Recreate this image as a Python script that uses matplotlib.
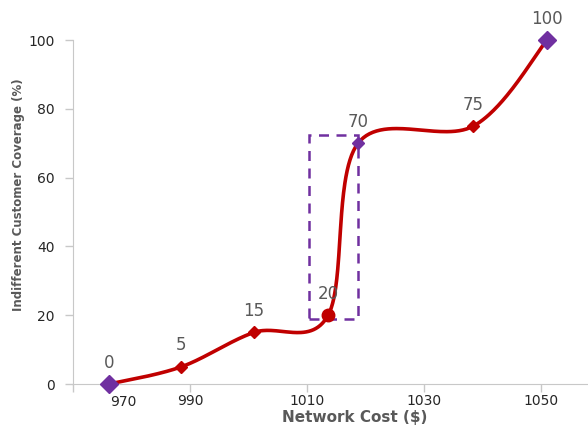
import numpy as np
import matplotlib.pyplot as plt
import matplotlib.transforms as mtransforms

# Network cost vs. share of indifferent customers
cost = [976.2, 988.5, 1000.9, 1013.6, 1018.7, 1038.4, 1051.0]
coverage = [0, 5, 15, 20, 70, 75, 100]
point_labels = ["0", "5", "15", "20", "70", "75", "100"]
x_ticks = [970, 990, 1010, 1030, 1050]
y_ticks = [0, 20, 40, 60, 80, 100]
# highlighted jump region (cost range, coverage range)
box_x = [1010.3, 1018.7]
box_y = [18.9, 72.4]

RED = "#c00000"
PURPLE = "#7030a0"
GRAY = "#595959"


def catmull_rom(xs, ys, n=60):
    """Smooth line through the points, like a spreadsheet smoothed line."""
    p = np.column_stack([xs, ys]).astype(float)
    p = np.vstack([p[0], p, p[-1]])
    out = []
    t = np.linspace(0, 1, n)[:, None]
    for i in range(1, len(p) - 2):
        p0, p1, p2, p3 = p[i - 1], p[i], p[i + 1], p[i + 2]
        seg = 0.5 * (
            2 * p1
            + (-p0 + p2) * t
            + (2 * p0 - 5 * p1 + 4 * p2 - p3) * t**2
            + (-p0 + 3 * p1 - 3 * p2 + p3) * t**3
        )
        out.append(seg)
    out = np.vstack(out)
    return out[:, 0], out[:, 1]


fig = plt.figure(figsize=(5.88, 4.32), dpi=100)
ax = fig.add_axes([0.124, 0.111, 0.876, 0.796])

sx, sy = catmull_rom(cost, coverage)
ax.plot(sx, sy, color=RED, lw=2.6, solid_capstyle="round", zorder=3, clip_on=False)

marker_color = [PURPLE, RED, RED, RED, PURPLE, RED, PURPLE]
marker_shape = ["D", "D", "D", "o", "D", "D", "D"]
marker_size = [9, 6, 6, 9, 6, 6, 9]
for x, y, c, m, s in zip(cost, coverage, marker_color, marker_shape, marker_size):
    ax.plot(x, y, marker=m, ms=s, color=c, mec=c, zorder=4, clip_on=False)

for x, y, lab in zip(cost, coverage, point_labels):
    ax.annotate(lab, (x, y), xytext=(0, 9), textcoords="offset points",
                ha="center", va="bottom", fontsize=12, color=GRAY)

ax.add_patch(plt.Rectangle((box_x[0], box_y[0]), box_x[1] - box_x[0],
                           box_y[1] - box_y[0], fill=False, ec=PURPLE,
                           lw=1.8, ls=(0, (4, 3)), zorder=2))

ax.set_xlim(970, 1058)
ax.set_ylim(0, 100)
ax.set_xticks(x_ticks)
ax.set_yticks(y_ticks)
ax.tick_params(axis="both", colors="#c8c8c8", labelcolor="#262626",
               labelsize=10, length=6, width=1)
ax.tick_params(axis="x", pad=1)
ax.tick_params(axis="y", pad=7)

# first cost label sits to the right of the axis corner
first = ax.get_xticklabels()[0]
first.set_transform(first.get_transform() +
                    mtransforms.ScaledTranslation(0.5, -0.01, fig.dpi_scale_trans))

for side in ["top", "right"]:
    ax.spines[side].set_visible(False)
for side in ["left", "bottom"]:
    ax.spines[side].set_color("#c8c8c8")

ax.set_xlabel("Network Cost ($)", fontsize=11, fontweight="bold", color=GRAY)
ax.xaxis.set_label_coords(0.548, -0.075)
ax.set_ylabel("Indifferent Customer Coverage (%)", fontsize=8.5, fontweight="bold",
              color=GRAY)
ax.yaxis.set_label_coords(-0.093, 0.55)

fig.savefig("out.png", dpi=100)
